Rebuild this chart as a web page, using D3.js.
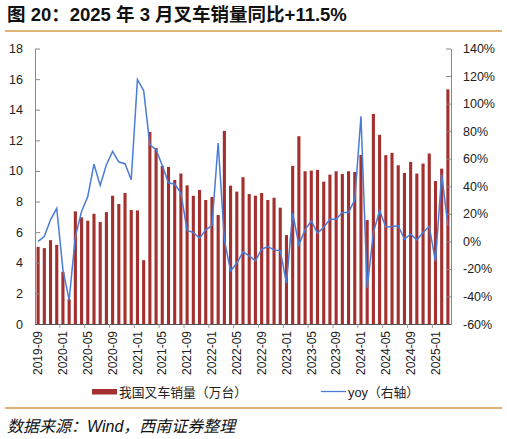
<!DOCTYPE html>
<html>
<head>
<meta charset="utf-8">
<script src="https://cdn.jsdelivr.net/npm/d3@7"></script>
<style>
  body { margin: 0; background: #fff; }
  text { font-family: "Liberation Sans", Arial, "Noto Sans CJK SC", sans-serif; }
</style>
</head>
<body>
<svg id="chart" width="507" height="439"></svg>
<script>
// months 2019-09 .. 2025-03
var months = [];
for (var yr = 2019; yr <= 2025; yr++) {
  for (var m = 1; m <= 12; m++) {
    if ((yr === 2019 && m < 9) || (yr === 2025 && m > 3)) continue;
    months.push(yr + "-" + (m < 10 ? "0" + m : m));
  }
}

// forklift sales, 10k units
var sales = [5.04, 4.96, 5.48, 5.17, 3.41, 1.62, 7.36, 6.97, 6.75, 7.2, 6.66, 7.31,
  8.38, 7.84, 8.56, 7.45, 7.42, 4.17, 12.55, 11.5, 10.33, 10.26, 9.41, 9.83,
  9.06, 8.38, 8.76, 8.1, 8.3, 7.12, 12.62, 9.04, 8.65, 9.59, 8.49, 8.38,
  8.56, 8.1, 8.25, 7.6, 5.81, 10.33, 12.27, 9.98, 10.02, 10.07, 9.3, 9.76,
  9.98, 9.8, 9.98, 9.93, 11.05, 6.79, 13.73, 12.36, 11.03, 11.18, 10.37, 9.87,
  10.59, 9.83, 10.48, 11.14, 9.34, 10.15, 15.33];

// yoy, %
var yoy = [0, 3.5, 15.6, 24, -20.7, -42.5, 3.5, 21.7, 32.6, 56, 40.6, 55.6,
  65.3, 57.6, 56.4, 44.7, 117.5, 109.5, 70, 66.5, 55, 42.3, 41.6, 35,
  7.9, 6.4, 2.3, 8.4, 11.5, 71.4, 1.1, -21.5, -15.9, -7.6, -10.5, -14.2,
  -5.7, -3.8, -6.2, -6.7, -30.4, 20.5, -2.5, 8.4, 14.9, 5.9, 10.3, 16.1,
  16.1, 21, 21, 30.2, 90.8, -34, 6.4, 22.4, 10.3, 10.8, 11.3, 1.6,
  5.2, 1.1, 6.4, 10.8, -14.6, 48.8, 11.5];

var leftTicks = [0, 2, 4, 6, 8, 10, 12, 14, 16, 18];
var rightTicks = [-60, -40, -20, 0, 20, 40, 60, 80, 100, 120, 140];

var svg = d3.select("#chart");
var plotLeft = 35, plotRight = 451, plotTop = 48.5, plotBottom = 324;

var x = d3.scaleBand()
  .domain(months)
  .range([plotLeft, plotRight])
  .paddingInner(0.5)
  .paddingOuter(0.25);

var y = d3.scaleLinear().domain([0, 18]).range([plotBottom, plotTop]);
var y2 = d3.scaleLinear().domain([-60, 140]).range([plotBottom, plotTop]);

// title and rules
svg.append("text")
  .attr("x", 7).attr("y", 21)
  .style("font-family", "'Liberation Sans', 'Noto Sans CJK SC', sans-serif")
  .style("font-size", "18.5px")
  .style("font-weight", "bold")
  .attr("fill", "#111")
  .text("图 20：2025 年 3 月叉车销量同比+11.5%");

svg.append("line")
  .attr("x1", 5).attr("x2", 502).attr("y1", 31).attr("y2", 31)
  .attr("stroke", "#D29B47").attr("stroke-width", 1.3);

svg.append("line")
  .attr("x1", 5).attr("x2", 502).attr("y1", 408).attr("y2", 408)
  .attr("stroke", "#D29B47").attr("stroke-width", 1.3);

// bars
svg.append("g")
  .selectAll("rect")
  .data(sales)
  .enter()
  .append("rect")
  .attr("x", function(d, i) { return x(months[i]); })
  .attr("width", x.bandwidth())
  .attr("y", function(d) { return y(d); })
  .attr("height", function(d) { return plotBottom - y(d); })
  .attr("fill", "#A3302F");

// left axis
var yAxis = svg.append("g")
  .attr("transform", "translate(" + plotLeft + ",0)")
  .call(d3.axisLeft(y).tickValues(leftTicks).tickSizeInner(-5).tickSizeOuter(0).tickPadding(12));
yAxis.select(".domain").attr("stroke", "#888");
yAxis.selectAll(".tick line").attr("stroke", "#888");
yAxis.selectAll("text").style("font-size", "12.5px").attr("fill", "#222");

// right axis
var y2Axis = svg.append("g")
  .attr("transform", "translate(" + plotRight + ",0)")
  .call(d3.axisRight(y2).tickValues(rightTicks).tickSizeInner(-5).tickSizeOuter(0).tickPadding(12)
    .tickFormat(function(d) { return d + "%"; }));
y2Axis.select(".domain").attr("stroke", "#888");
y2Axis.selectAll(".tick line").attr("stroke", "#888");
y2Axis.selectAll("text").style("font-size", "12.5px").attr("fill", "#222");

// bottom axis
var labelled = months.filter(function(d, i) { return i % 4 === 0; });
var xAxis = svg.append("g")
  .attr("transform", "translate(0," + plotBottom + ")")
  .call(d3.axisBottom(x).tickValues(labelled).tickSize(0).tickPadding(7));
xAxis.select(".domain").attr("stroke", "#555");
xAxis.selectAll("text")
  .style("font-size", "12px")
  .attr("fill", "#222")
  .style("text-anchor", "end")
  .attr("transform", "rotate(-90)")
  .attr("x", -7).attr("y", 0).attr("dy", "0.35em");

// small category ticks between months
svg.append("g")
  .selectAll("line")
  .data(labelled.slice(1))
  .enter()
  .append("line")
  .attr("x1", function(d) { return x(d) - x.step() * 0.25; })
  .attr("x2", function(d) { return x(d) - x.step() * 0.25; })
  .attr("y1", plotBottom).attr("y2", plotBottom + 4)
  .attr("stroke", "#999");

// yoy line
var line = d3.line()
  .x(function(d, i) { return x(months[i]) + x.bandwidth() / 2; })
  .y(function(d) { return y2(d); });

svg.append("path")
  .datum(yoy)
  .attr("d", line)
  .attr("fill", "none")
  .attr("stroke", "#4A7BD6")
  .attr("stroke-width", 1.5);

// legend
var legend = svg.append("g").style("font-family", "'Noto Sans CJK SC', sans-serif");
legend.append("rect")
  .attr("x", 92).attr("y", 389).attr("width", 25).attr("height", 5.5)
  .attr("fill", "#A3302F");
legend.append("text")
  .attr("x", 119).attr("y", 396.5)
  .style("font-size", "12.8px").attr("fill", "#222")
  .text("我国叉车销量（万台）");
legend.append("line")
  .attr("x1", 321).attr("x2", 346).attr("y1", 391.5).attr("y2", 391.5)
  .attr("stroke", "#4A7BD6").attr("stroke-width", 1.3);
legend.append("text")
  .attr("x", 348).attr("y", 396.5)
  .style("font-size", "12.8px").attr("fill", "#222")
  .text("yoy（右轴）");

// source
svg.append("text")
  .attr("x", 7).attr("y", 432)
  .style("font-family", "'Liberation Sans', 'Noto Sans CJK SC', sans-serif")
  .style("font-size", "16px")
  .style("font-style", "italic")
  .attr("fill", "#111")
  .text("数据来源：Wind，西南证券整理");
</script>
</body>
</html>
